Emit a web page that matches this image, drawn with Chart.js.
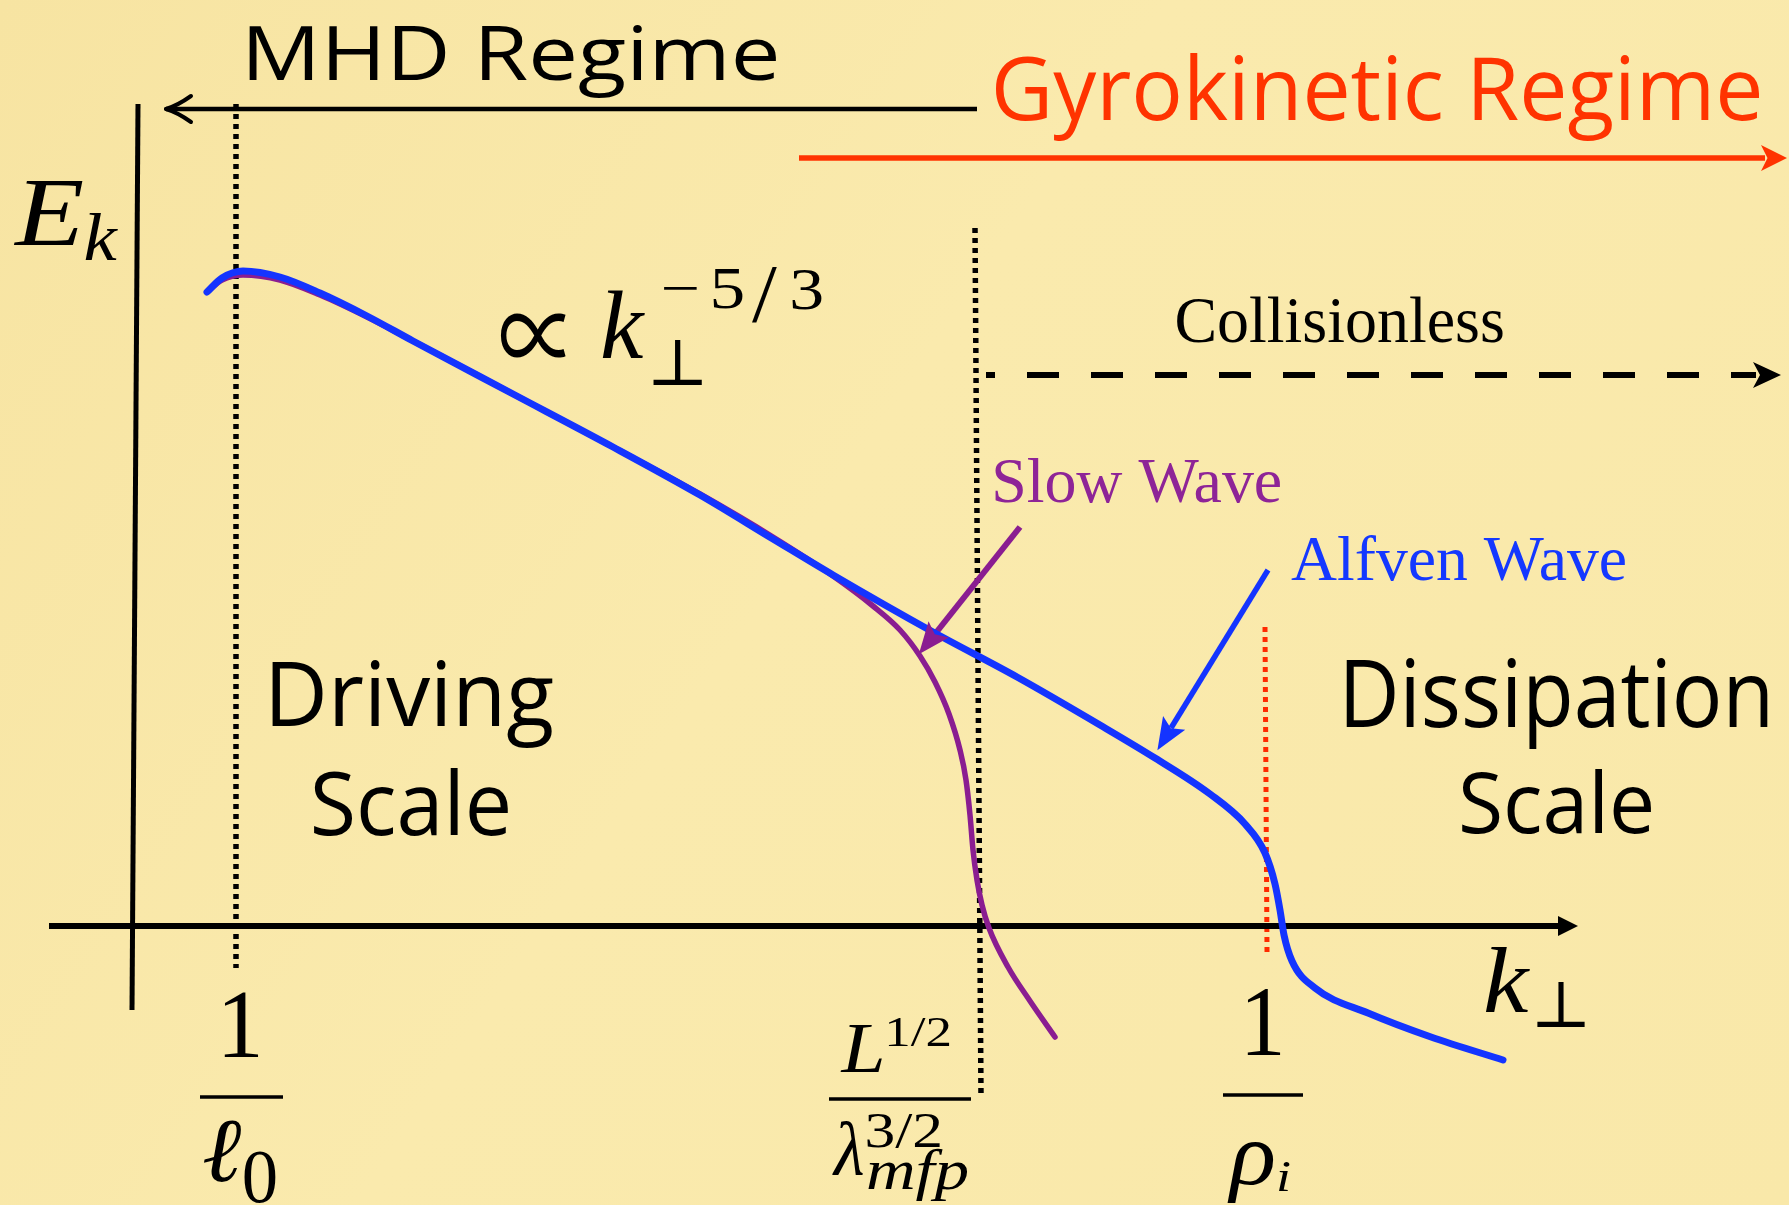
<!DOCTYPE html>
<html><head><meta charset="utf-8">
<script src="https://cdn.jsdelivr.net/npm/chart.js@4.4.1/dist/chart.umd.min.js"></script>
<style>
html,body{margin:0;padding:0;background:#F9E8AA;overflow:hidden;}
#wrap{position:relative;width:1789px;height:1205px;}
</style></head>
<body><div id="wrap"><canvas id="c"></canvas></div>
<script>
// ---- Data (x = position along k_perp axis, y = energy level E_k, schematic units) ----
const alfvenK = [0.72, 0.87, 1.08, 1.45, 1.85, 2.32, 2.78, 3.78, 4.78, 5.65, 6.38, 6.98, 7.98, 8.82, 9.65, 10.20, 10.75, 11.10, 11.30, 11.40, 11.45, 11.49, 11.57, 11.80, 12.33, 12.96, 13.68];
const alfvenE = [6.34, 6.48, 6.55, 6.49, 6.33, 6.10, 5.85, 5.32, 4.79, 4.31, 3.87, 3.51, 2.94, 2.49, 2.01, 1.68, 1.32, 1.02, 0.73, 0.42, 0.16, -0.09, -0.35, -0.62, -0.87, -1.11, -1.34];
const slowK = [0.72, 0.87, 1.08, 1.45, 1.85, 2.32, 2.78, 3.78, 4.78, 5.65, 6.38, 6.98, 7.38, 7.65, 7.85, 8.00, 8.14, 8.25, 8.31, 8.35, 8.38, 8.42, 8.47, 8.54, 8.73, 8.95, 9.20];
const slowE = [6.34, 6.46, 6.51, 6.46, 6.31, 6.09, 5.85, 5.32, 4.79, 4.32, 3.89, 3.50, 3.20, 2.96, 2.70, 2.44, 2.12, 1.76, 1.46, 1.11, 0.76, 0.46, 0.21, -0.02, -0.41, -0.75, -1.11];

// scale markers (vertical dotted lines)
const ell0K = [1.01, 1.01],   ell0E = [8.22, -0.42];
const lmfpK = [8.40, 8.46],   lmfpE = [6.98, -1.71];
const rhoK  = [11.30, 11.32], rhoE  = [2.99, -0.26];
// axes
const yAxisK = [0.03, -0.03], yAxisE = [8.22, -0.84];
const xAxisK = [-0.86, 14.24], xAxisE = [0, 0];
// regime arrows
const mhdK  = [8.42, 0.31],  mhdE  = [8.17, 8.17];
const gyroK = [6.64, 16.30], gyroE = [7.68, 7.68];
const collK = [8.51, 16.21], collE = [5.51, 5.51];
// pointer arrows
const slowPtrK = [8.85, 8.00],  slowPtrE = [3.99, 2.92];
const alfPtrK  = [11.33, 10.36], alfPtrE = [3.56, 1.98];
// fraction bars of tick labels
const bar1K = [0.65, 1.48],  bar1E = [-1.71, -1.71];
const bar2K = [6.94, 8.36],  bar2E = [-1.73, -1.73];
const bar3K = [10.88, 11.68], bar3E = [-1.69, -1.69];

// ---- Text labels (layout only) ----
const SANS = '"Open Sans", "Noto Sans", sans-serif';
const SERIF = '"Liberation Serif", "DejaVu Serif", serif';
const SYM = '"Noto Sans CJK JP", "DejaVu Serif", serif';
const labels = [
  {t:'MHD Regime', fam:SANS, c:'#000', l:1.14, r:6.41, top:9.01, base:8.46, ref:'M'},
  {t:'Gyrokinetic Regime', fam:SANS, c:'#FF3300', l:8.61, r:16.24, top:8.69, base:8.06, ref:'R'},
  {t:'Collisionless', c:'#000', l:10.42, r:13.68, top:6.27, base:5.84, ref:'C'},
  {t:'Slow Wave', c:'#8E2497', l:8.60, r:11.45, top:4.65, base:4.24, ref:'W'},
  {t:'Alfven Wave', c:'#1438FF', l:11.56, r:14.90, top:3.88, base:3.46, ref:'A'},
  {t:'Driving', fam:SANS, l:1.37, r:4.18, top:2.64, base:2.00, ref:'D'},
  {t:'Scale', fam:SANS, l:1.79, r:3.73, top:1.55, base:0.91, ref:'S'},
  {t:'Dissipation', fam:SANS, l:12.11, r:16.33, top:2.66, base:1.99, ref:'D'},
  {t:'Scale', fam:SANS, l:13.27, r:15.16, top:1.54, base:0.93, ref:'S'},
  {t:'E', st:'italic', l:-1.22, r:-0.52, top:7.44, base:6.81},
  {t:'k', st:'italic', l:-0.50, r:-0.17, top:7.13, base:6.66},
  {t:'\u221D', fam:SYM, l:3.67, r:4.30, top:6.13, bot:5.68},
  {t:'k', st:'italic', l:4.67, r:5.10, top:6.35, base:5.68},
  {t:'\u22A5', l:5.18, r:5.67, top:5.86, bot:5.41},
  {t:'\u2212', l:5.22, r:5.68, mid:6.37, size:56},
  {t:'5', l:5.78, r:6.08, top:6.56, base:6.18},
  {t:'/', l:6.17, r:6.42, top:6.58, bot:6.03},
  {t:'3', l:6.57, r:6.87, top:6.56, base:6.17},
  {t:'1', l:0.89, r:1.23, top:-0.67, base:-1.31},
  {t:'\u2113', st:'italic', l:0.69, r:1.07, top:-1.94, bot:-2.56},
  {t:'0', l:1.09, r:1.41, top:-2.26, base:-2.76},
  {t:'L', st:'italic', l:7.05, r:7.47, top:-0.99, base:-1.46},
  {t:'1/2', l:7.48, r:8.20, top:-0.92, base:-1.20},
  {t:'\u03BB', st:'italic', l:6.97, r:7.28, top:-1.96, base:-2.49},
  {t:'3/2', l:7.32, r:8.05, top:-1.87, base:-2.21},
  {t:'mfp', st:'italic', l:7.33, r:8.32, size:58, base:-2.63},
  {t:'1', l:11.12, r:11.45, top:-0.64, base:-1.29},
  {t:'\u03C1', st:'italic', l:10.92, r:11.38, top:-2.16, bot:-2.77},
  {t:'i', st:'italic', l:11.40, r:11.58, top:-2.36, bot:-2.65},
  {t:'k', st:'italic', l:13.50, r:13.95, top:-0.22, base:-0.86},
  {t:'\u22A5', l:14.02, r:14.50, top:-0.56, bot:-1.01}
];

const pts = (xs, ys) => xs.map((x, i) => ({x: x, y: ys[i]}));
const line = (xs, ys, color, width, extra) => Object.assign({
  data: pts(xs, ys), showLine: true, borderColor: color, backgroundColor: color,
  borderWidth: width, pointRadius: 0, pointHoverRadius: 0, fill: false, tension: 0,
  borderCapStyle: 'butt', clip: false
}, extra || {});

const datasets = [
  line(alfvenK, alfvenE, '#1434FF', 7, {order: 1, cubicInterpolationMode: 'monotone', borderCapStyle: 'round', borderJoinStyle: 'round'}),
  line(slowK, slowE, '#8A1D91', 5.5, {order: 2, cubicInterpolationMode: 'monotone', borderCapStyle: 'round', borderJoinStyle: 'round'}),
  line(xAxisK, xAxisE, '#000', 6, {order: 5, arrow: {len: 20, ext: 19, half: 10, notch: 1}}),
  line(yAxisK, yAxisE, '#000', 5, {order: 5}),
  line(ell0K, ell0E, '#000', 5.5, {order: 8, borderDash: [5, 5]}),
  line(lmfpK, lmfpE, '#000', 5.5, {order: 8, borderDash: [5, 5]}),
  line(rhoK, rhoE, '#FF2A00', 5, {order: 8, borderDash: [5, 5]}),
  line(mhdK, mhdE, '#000', 4.5, {order: 6, arrow: {type: 'open', len: 25, half: 13, lw: 4}}),
  line(gyroK, gyroE, '#FF3300', 5.5, {order: 6, arrow: {len: 26, ext: 22, half: 13, notch: 0.75}}),
  line(collK, collE, '#000', 6, {order: 6, borderDash: [32, 32], borderDashOffset: 23, arrow: {len: 28, ext: 25, half: 13, notch: 0.75}}),
  line(slowPtrK, slowPtrE, '#8A1D91', 6, {order: 3, arrow: {len: 32, ext: 26, half: 13, notch: 0.8}}),
  line(alfPtrK, alfPtrE, '#1434FF', 5.5, {order: 3, arrow: {len: 32, ext: 26, half: 13, notch: 0.8}}),
  line(bar1K, bar1E, '#000', 3.5, {order: 7}),
  line(bar2K, bar2E, '#000', 3.5, {order: 7}),
  line(bar3K, bar3E, '#000', 3.5, {order: 7})
];

const bgPlugin = {
  id: 'bg',
  beforeDraw(chart) {
    const ctx = chart.ctx, W = chart.width, H = chart.height;
    const g = ctx.createLinearGradient(0, 0, W, H);
    g.addColorStop(0, '#F7E4A2');
    g.addColorStop(0.45, '#FAEAAD');
    g.addColorStop(1, '#F9E8A9');
    ctx.save(); ctx.fillStyle = g; ctx.fillRect(0, 0, W, H); ctx.restore();
  }
};

const arrowPlugin = {
  id: 'arrows',
  afterDatasetsDraw(chart) {
    const ctx = chart.ctx;
    chart.data.datasets.forEach((ds, i) => {
      if (!ds.arrow) return;
      const meta = chart.getDatasetMeta(i);
      const p = meta.data, n = p.length;
      const p1 = p[n - 2], p2 = p[n - 1];
      const dx = p2.x - p1.x, dy = p2.y - p1.y, L = Math.hypot(dx, dy);
      const ux = dx / L, uy = dy / L, nx = -uy, ny = ux;
      const a = ds.arrow;
      ctx.save();
      if (a.type === 'open') {
        const tx = p2.x, ty = p2.y;
        ctx.strokeStyle = ds.borderColor; ctx.lineWidth = a.lw; ctx.lineCap = 'round';
        [1, -1].forEach(s => {
          ctx.beginPath();
          ctx.moveTo(tx - a.len * ux + s * a.half * nx, ty - a.len * uy + s * a.half * ny);
          ctx.quadraticCurveTo(tx - a.len * 0.45 * ux + s * a.half * 0.25 * nx,
                               ty - a.len * 0.45 * uy + s * a.half * 0.25 * ny, tx, ty);
          ctx.stroke();
        });
      } else {
        const tx = p2.x + a.ext * ux, ty = p2.y + a.ext * uy;
        const bx = tx - a.len * ux, by = ty - a.len * uy;
        const kx = tx - a.notch * a.len * ux, ky = ty - a.notch * a.len * uy;
        ctx.fillStyle = ds.borderColor;
        ctx.beginPath();
        ctx.moveTo(tx, ty);
        ctx.lineTo(bx + a.half * nx, by + a.half * ny);
        ctx.lineTo(kx, ky);
        ctx.lineTo(bx - a.half * nx, by - a.half * ny);
        ctx.closePath(); ctx.fill();
      }
      ctx.restore();
    });
  }
};

const textPlugin = {
  id: 'texts',
  afterDraw(chart) {
    const ctx = chart.ctx, xs = chart.scales.x, ys = chart.scales.y;
    const X = v => xs.getPixelForValue(v), Y = v => ys.getPixelForValue(v);
    labels.forEach(s => {
      const st = s.st ? s.st + ' ' : '';
      const fam = s.fam || SERIF;
      ctx.save();
      ctx.textBaseline = 'alphabetic'; ctx.textAlign = 'left';
      ctx.font = st + '100px ' + fam;
      const mr = ctx.measureText(s.ref || s.t);
      const m = ctx.measureText(s.t);
      let size, baseline;
      if (s.size) {
        size = s.size;
        if (s.mid !== undefined) baseline = Y(s.mid) + (mr.actualBoundingBoxAscent - mr.actualBoundingBoxDescent) / 2 * size / 100;
        else baseline = Y(s.base);
      } else if (s.bot !== undefined) {
        const h = mr.actualBoundingBoxAscent + mr.actualBoundingBoxDescent;
        size = 100 * (Y(s.bot) - Y(s.top)) / h;
        baseline = Y(s.top) + mr.actualBoundingBoxAscent * size / 100;
      } else {
        size = 100 * (Y(s.base) - Y(s.top)) / mr.actualBoundingBoxAscent;
        baseline = Y(s.base);
      }
      const k = size / 100;
      const inkW = (m.actualBoundingBoxLeft + m.actualBoundingBoxRight) * k;
      const boxW = X(s.r) - X(s.l);
      let sx = boxW / inkW;
      sx = Math.max(0.72, Math.min(1.25, sx));
      const left = X(s.l) + (boxW - inkW * sx) / 2;
      ctx.fillStyle = s.c || '#000';
      ctx.font = st + size.toFixed(2) + 'px ' + fam;
      ctx.translate(left + m.actualBoundingBoxLeft * k * sx, baseline);
      ctx.scale(sx, 1);
      ctx.fillText(s.t, 0, 0);
      ctx.restore();
    });
  }
};

new Chart(document.getElementById('c'), {
  type: 'scatter',
  data: {datasets: datasets},
  options: {
    responsive: true, maintainAspectRatio: false, animation: false,
    layout: {padding: 0},
    plugins: {legend: {display: false}, tooltip: {enabled: false}, title: {display: false}},
    events: [],
    scales: {
      x: {type: 'linear', min: -1.35, max: 16.54, display: false},
      y: {type: 'linear', min: -2.79, max: 9.26, display: false}
    }
  },
  plugins: [bgPlugin, arrowPlugin, textPlugin]
});
</script></body></html>
